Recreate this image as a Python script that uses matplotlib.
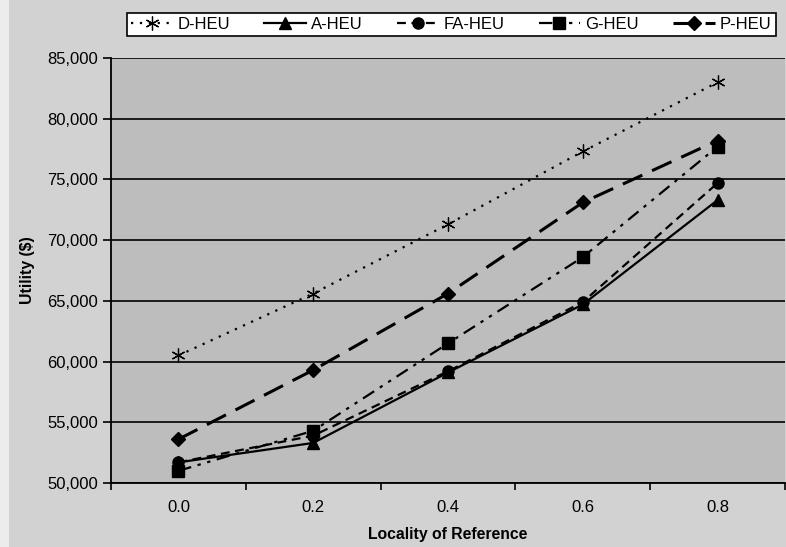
import numpy as np
import matplotlib.pyplot as plt
from matplotlib.patches import Rectangle

# values
locality = ["0.0", "0.2", "0.4", "0.6", "0.8"]
d_heu = [60500, 65600, 71300, 77300, 83000]
a_heu = [51700, 53300, 59100, 64700, 73300]
fa_heu = [51700, 53900, 59200, 64900, 74700]
g_heu = [51000, 54300, 61500, 68600, 77700]
p_heu = [53600, 59300, 65600, 73100, 78200]

plt.rcParams['font.family'] = ['Liberation Sans', 'DejaVu Sans']

fig = plt.figure(figsize=(7.86, 5.47), dpi=100)
fig.patch.set_facecolor("#d2d2d2")
# light scan border on the left
fig.patches.append(Rectangle((0, 0), 0.011, 1, transform=fig.transFigure,
                             facecolor="#ececec", edgecolor="none"))
ax = fig.add_axes([0.1412, 0.117, 0.8575, 0.777])
ax.set_facecolor("#bdbdbd")

x = np.arange(len(locality))

ax.plot(x, d_heu, color="black", linestyle=(0, (1, 3)), linewidth=1.6,
        marker=(6, 2, 0), markersize=10, markeredgewidth=0.9, label="D-HEU")
ax.plot(x, a_heu, color="black", linestyle="-", linewidth=1.6,
        marker="^", markersize=8, label="A-HEU")
ax.plot(x, fa_heu, color="black", linestyle=(0, (4, 2.5)), linewidth=1.6,
        marker="o", markersize=8, label="FA-HEU")
ax.plot(x, g_heu, color="black", linestyle=(0, (6, 3, 1.5, 3, 1.5, 3)), linewidth=1.6,
        marker="s", markersize=8, label="G-HEU")
ax.plot(x, p_heu, color="black", linestyle=(0, (7, 3.5)), linewidth=2.2,
        marker="D", markersize=7, label="P-HEU")

ax.set_xlim(-0.5, 4.5)
ax.set_ylim(50000, 85000)
ax.set_yticks(range(50000, 85001, 5000))
ax.set_yticklabels([f"{v:,}" for v in range(50000, 85001, 5000)])
ax.set_xticks(x)
ax.set_xticklabels(locality)
ax.set_xticks(np.arange(-0.5, 4.6, 1), minor=True)
ax.tick_params(axis="x", which="major", length=0, pad=12, labelsize=12)
ax.tick_params(axis="x", which="minor", length=5, width=1.2)
ax.tick_params(axis="y", length=6, width=1.2, labelsize=12)

ax.grid(axis="y", color="black", linewidth=1.2)
ax.set_axisbelow(True)
for side in ["top", "right"]:
    ax.spines[side].set_visible(False)
for side in ["left", "bottom"]:
    ax.spines[side].set_linewidth(1.3)

ax.set_xlabel("Locality of Reference", fontsize=11.3, fontweight="bold", labelpad=9)
ax.set_ylabel("Utility ($)", fontsize=11.3, fontweight="bold", labelpad=9)

leg = fig.legend(loc="center", bbox_to_anchor=(0.574, 0.955), ncol=5, fontsize=12,
                 frameon=True, fancybox=False, edgecolor="black", framealpha=1,
                 handlelength=2.5, columnspacing=2.05, handletextpad=0.3,
                 borderpad=0.25)
leg.get_frame().set_linewidth(1.2)

fig.savefig("out.png", dpi=100, facecolor=fig.get_facecolor())
